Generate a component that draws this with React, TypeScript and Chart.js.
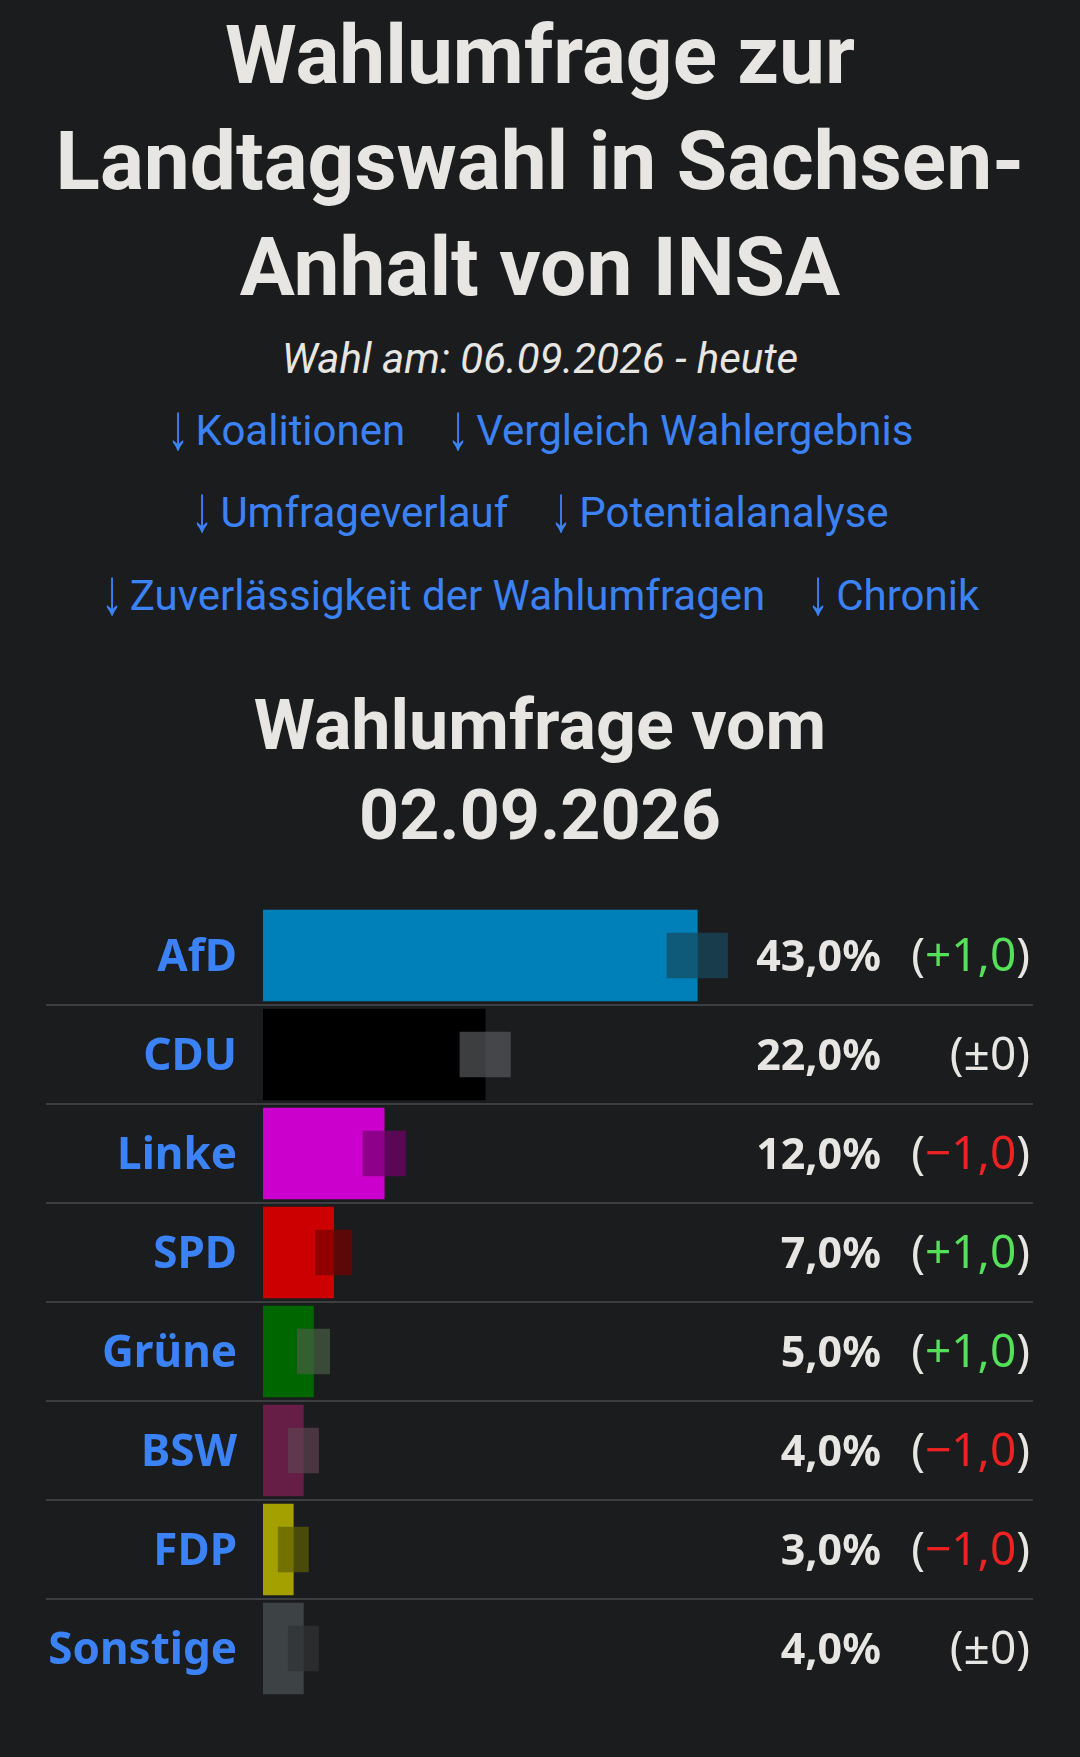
import React, { useEffect, useRef } from "react";
import { Chart, registerables } from "chart.js";

Chart.register(...registerables);

const parties = ["AfD", "CDU", "Linke", "SPD", "Grüne", "BSW", "FDP", "Sonstige"];
const values = [43, 22, 12, 7, 5, 4, 3, 4];
const changes = [1, 0, -1, 1, 1, -1, -1, 0];
const margins = [3.0, 2.5, 2.1, 1.8, 1.6, 1.5, 1.5, 1.5];
const barColors = ["#0080b8", "#000000", "#cc00cc", "#cc0000", "#006600", "#661e46", "#a3a000", "#3d4245"];
const overlayColors = [
  "rgba(23,74,94,0.7)",
  "rgba(87,89,91,0.7)",
  "rgba(117,0,109,0.7)",
  "rgba(120,0,0,0.7)",
  "rgba(71,94,67,0.7)",
  "rgba(94,65,78,0.7)",
  "rgba(94,94,1,0.7)",
  "rgba(48,51,53,0.7)",
];
const linkRows = [
  ["Koalitionen", "Vergleich Wahlergebnis"],
  ["Umfrageverlauf", "Potentialanalyse"],
  ["Zuverlässigkeit der Wahlumfragen", "Chronik"],
];

const BG = "#1b1c1e";
const FG = "#e8e6e3";
const BLUE = "#3b82f6";
const GREEN = "#55e05a";
const RED = "#ee2222";

function fmtValue(v: number) {
  return v.toFixed(1).replace(".", ",") + "%";
}
function fmtChange(c: number) {
  if (c === 0) return "±0";
  return (c > 0 ? "+" : "−") + Math.abs(c).toFixed(1).replace(".", ",");
}

const rowTextPlugin = {
  id: "rowText",
  beforeDatasetsDraw(chart: any) {
    const { ctx } = chart;
    const y = chart.scales.y;
    ctx.save();
    ctx.strokeStyle = "#3c3e41";
    ctx.lineWidth = 2;
    for (let i = 1; i < parties.length; i++) {
      const py = Math.round((y.getPixelForValue(i - 1) + y.getPixelForValue(i)) / 2);
      ctx.beginPath();
      ctx.moveTo(46, py);
      ctx.lineTo(1033, py);
      ctx.stroke();
    }
    ctx.restore();
  },
  afterDatasetsDraw(chart: any) {
    const { ctx } = chart;
    const y = chart.scales.y;
    ctx.save();
    ctx.textBaseline = "alphabetic";
    for (let i = 0; i < parties.length; i++) {
      const cy = y.getPixelForValue(i) + 15;
      ctx.font = "bold 43px 'Noto Sans'";
      ctx.fillStyle = FG;
      ctx.textAlign = "right";
      ctx.fillText(fmtValue(values[i]), 881, cy);
      ctx.font = "46px 'Noto Sans'";
      const ch = fmtChange(changes[i]);
      const wClose = ctx.measureText(")").width;
      const wMid = ctx.measureText(ch).width;
      const wOpen = ctx.measureText("(").width;
      const right = 1030;
      ctx.textAlign = "left";
      let x = right - wClose - wMid - wOpen;
      ctx.fillStyle = FG;
      ctx.fillText("(", x, cy);
      x += wOpen;
      ctx.fillStyle = changes[i] > 0 ? GREEN : changes[i] < 0 ? RED : FG;
      ctx.fillText(ch, x, cy);
      x += wMid;
      ctx.fillStyle = FG;
      ctx.fillText(")", x, cy);
    }
    ctx.restore();
  },
};

const CANVAS_TOP = 846;
const CANVAS_H = 912;

function BarChart() {
  const ref = useRef<HTMLCanvasElement | null>(null);
  useEffect(() => {
    if (!ref.current) return;
    const chart = new Chart(ref.current, {
      type: "bar",
      data: {
        labels: parties,
        datasets: [
          {
            label: "Margin",
            data: values.map((v, i) => [v - margins[i], v + margins[i]]) as any,
            backgroundColor: overlayColors,
            barThickness: 45,
            grouped: false,
            order: 0,
          } as any,
          {
            label: "Umfrage",
            data: values,
            backgroundColor: barColors,
            barThickness: 91,
            grouped: false,
            order: 1,
          } as any,
        ],
      },
      options: {
        indexAxis: "y",
        animation: false,
        responsive: false,
        maintainAspectRatio: false,
        events: [],
        layout: { padding: { top: 60, bottom: 60, left: 0, right: 211 } },
        plugins: { legend: { display: false }, tooltip: { enabled: false }, title: { display: false } },
        scales: {
          x: { display: false, min: 0, max: 60 },
          y: {
            afterFit(scale: any) {
              scale.width = 263;
              scale.paddingTop = 0;
              scale.paddingBottom = 0;
            },
            grid: { display: false, drawTicks: false },
            border: { display: false },
            ticks: {
              color: BLUE,
              padding: 26,
              labelOffset: 3,
              font: { family: "'Noto Sans'", weight: "bold", size: 44 },
            },
          },
        },
      },
      plugins: [rowTextPlugin],
    } as any);
    return () => chart.destroy();
  }, []);
  return (
    <canvas
      ref={ref}
      width={1080}
      height={CANVAS_H}
      style={{ position: "absolute", top: CANVAS_TOP, left: 0, width: 1080, height: CANVAS_H }}
    />
  );
}

export default function App() {
  useEffect(() => {
    document.body.style.margin = "0";
    document.body.style.background = BG;
    document.documentElement.style.background = BG;
  }, []);
  const center: React.CSSProperties = {
    position: "absolute",
    left: 0,
    width: 1080,
    textAlign: "center",
    whiteSpace: "nowrap",
    fontFamily: "Roboto, sans-serif",
    color: FG,
  };
  const linkTops = [406, 488, 571];
  return (
    <div style={{ position: "relative", width: 1080, height: 1757, background: BG, overflow: "hidden" }}>
      <div style={{ ...center, top: 2, fontSize: 82, fontWeight: 700, lineHeight: "106px" }}>
        Wahlumfrage zur
        <br />
        Landtagswahl in Sachsen-
        <br />
        Anhalt von INSA
      </div>
      <div style={{ ...center, top: 336, fontSize: 42, fontStyle: "italic", lineHeight: "46px" }}>
        Wahl am: 06.09.2026 - heute
      </div>
      {linkRows.map((row, r) => (
        <div
          key={r}
          style={{
            ...center,
            top: linkTops[r],
            fontSize: 42,
            lineHeight: "50px",
            color: BLUE,
            display: "flex",
            justifyContent: "center",
            gap: 42,
          }}
        >
          {row.map((t) => (
            <span key={t}>
              <span
                style={{
                  fontFamily: "'Liberation Sans'",
                  display: "inline-block",
                  width: 22,
                  marginRight: 7,
                  textAlign: "center",
                  transform: "scale(1.05, 1.55)",
                  transformOrigin: "50% 62%",
                }}
              >
                ↓
              </span>
              {t}
            </span>
          ))}
        </div>
      ))}
      <div style={{ ...center, top: 680, fontSize: 70, fontWeight: 700, lineHeight: "90px" }}>
        Wahlumfrage vom
        <br />
        02.09.2026
      </div>
      <BarChart />
    </div>
  );
}
